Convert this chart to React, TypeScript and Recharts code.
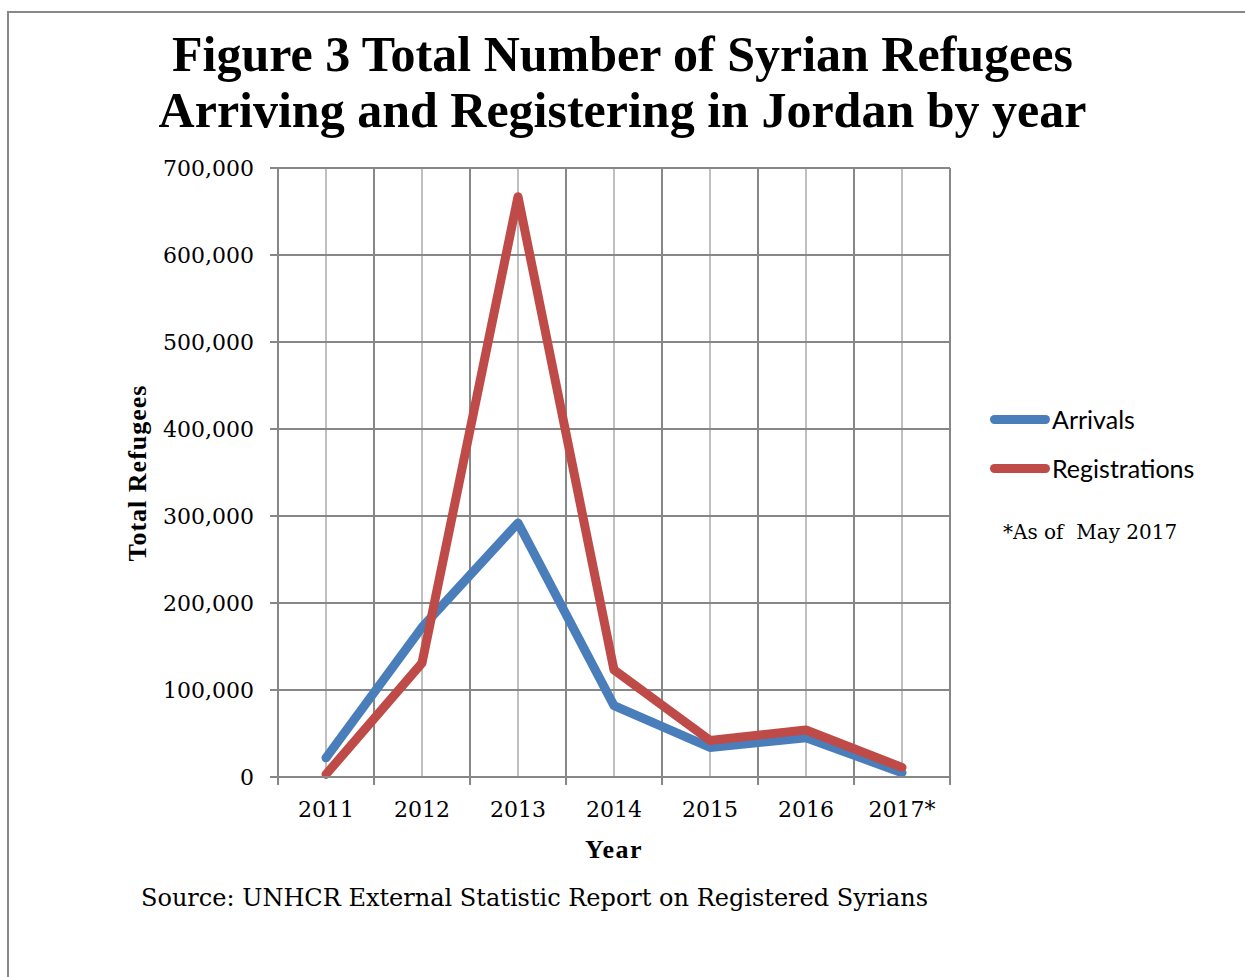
import { LineChart, Line, XAxis, YAxis, CartesianGrid } from "recharts";

const years = ["2011", "2012", "2013", "2014", "2015", "2016", "2017*"];
const arrivals = [22000, 172000, 292000, 82000, 34000, 45000, 5000];
const registrations = [3000, 131000, 667000, 123000, 42000, 54000, 11000];
const yTicks = [0, 100000, 200000, 300000, 400000, 500000, 600000, 700000];

const series = [
  { key: "arrivals", name: "Arrivals", color: "#4A7EBB" },
  { key: "registrations", name: "Registrations", color: "#BE4B48" },
];

const data = years.map((year, i) => ({
  year,
  arrivals: arrivals[i],
  registrations: registrations[i],
}));

const serif = "'Liberation Serif', 'DejaVu Serif', serif";
const wideSerif = "'DejaVu Serif', 'Liberation Serif', serif";
const sans = "Lato, 'Liberation Sans', Arial, sans-serif";
const darkGrid = "#878787";
const lightGrid = "#c0c0c0";

const chartW = 1245;
const chartH = 977;
const margin = { top: 168, right: 295, bottom: 0, left: 170 };
const yAxisW = 108;
const plotW = chartW - margin.left - margin.right - yAxisW;
const halfBand = plotW / (years.length * 2);

// band boundaries (Excel-style category gridlines between years)
function boundaryLines({ offset }: any) {
  const left = offset?.left ?? margin.left + yAxisW;
  const width = offset?.width ?? plotW;
  const step = width / years.length;
  return [...years.map((_, i) => left + i * step), left + width];
}

function YearTick(props: any) {
  const { x, y, payload, index } = props;
  const half = typeof payload?.offset === "number" && payload.offset > 0 ? payload.offset : halfBand;
  return (
    <g>
      <line x1={x - half} x2={x - half} y1={y - 8} y2={y} stroke={darkGrid} strokeWidth={2} />
      {index === years.length - 1 && (
        <line x1={x + half} x2={x + half} y1={y - 8} y2={y} stroke={darkGrid} strokeWidth={2} />
      )}
      <text x={x} y={y + 32} textAnchor="middle" fontFamily={wideSerif} fontSize={22} fill="#000">
        {payload.value}
      </text>
    </g>
  );
}

export default function App() {
  return (
    <div style={{ position: "absolute", left: 0, top: 0, width: 1245, height: 977, background: "#fff", overflow: "hidden" }}>
      <div
        style={{
          position: "absolute",
          left: 7,
          top: 11,
          width: 1300,
          height: 1100,
          borderTop: "2px solid #888",
          borderLeft: "2px solid #888",
        }}
      />
      <div
        style={{
          position: "absolute",
          left: 0,
          width: 1245,
          top: 26,
          textAlign: "center",
          fontFamily: serif,
          fontWeight: "bold",
          fontSize: 50,
          lineHeight: "56px",
        }}
      >
        Figure 3 Total Number of Syrian Refugees
        <br />
        Arriving and Registering in Jordan by year
      </div>

      <div style={{ position: "absolute", left: 0, top: 0 }}>
        <LineChart width={chartW} height={chartH} data={data} margin={margin}>
          <CartesianGrid horizontal={false} stroke={lightGrid} strokeWidth={2} />
          <CartesianGrid
            stroke={darkGrid}
            strokeWidth={2}
            verticalCoordinatesGenerator={boundaryLines}
          />
          <XAxis
            dataKey="year"
            scale="band"
            height={200}
            tickLine={false}
            axisLine={{ stroke: darkGrid, strokeWidth: 2 }}
            tick={<YearTick />}
            interval={0}
          />
          <YAxis
            width={yAxisW}
            domain={[0, 700000]}
            ticks={yTicks}
            interval={0}
            tickSize={8}
            tickMargin={16}
            tickLine={{ stroke: darkGrid, strokeWidth: 2 }}
            axisLine={{ stroke: darkGrid, strokeWidth: 2 }}
            tickFormatter={(v: number) => v.toLocaleString("en-US")}
            tick={{ fontFamily: wideSerif, fontSize: 22, fill: "#000" }}
          />
          {series.map((s) => (
            <Line
              key={s.key}
              dataKey={s.key}
              name={s.name}
              stroke={s.color}
              strokeWidth={9}
              strokeLinecap="round"
              strokeLinejoin="round"
              dot={false}
              isAnimationActive={false}
            />
          ))}
        </LineChart>
      </div>

      <div
        style={{
          position: "absolute",
          left: 138,
          top: 473,
          transform: "translate(-50%, -50%) rotate(-90deg)",
          fontFamily: serif,
          fontWeight: "bold",
          fontSize: 26,
          letterSpacing: 1,
          whiteSpace: "nowrap",
        }}
      >
        Total Refugees
      </div>
      <div
        style={{
          position: "absolute",
          left: 614,
          top: 850,
          transform: "translate(-50%, -50%)",
          fontFamily: serif,
          fontWeight: "bold",
          fontSize: 26,
          letterSpacing: 1.5,
        }}
      >
        Year
      </div>
      <div
        style={{
          position: "absolute",
          left: 141,
          top: 898,
          transform: "translateY(-50%)",
          fontFamily: wideSerif,
          fontSize: 24,
          whiteSpace: "nowrap",
        }}
      >
        Source: UNHCR External Statistic Report on Registered Syrians
      </div>

      {series.map((s, i) => (
        <div
          key={s.key}
          style={{
            position: "absolute",
            left: 990,
            top: 419 + i * 49,
            transform: "translateY(-50%)",
            display: "flex",
            alignItems: "center",
          }}
        >
          <div style={{ width: 60, height: 9, borderRadius: 5, background: s.color }} />
          <span style={{ fontFamily: sans, fontSize: 25, marginLeft: 2 }}>{s.name}</span>
        </div>
      ))}
      <div
        style={{
          position: "absolute",
          left: 1003,
          top: 532,
          transform: "translateY(-50%)",
          fontFamily: wideSerif,
          fontSize: 20,
          whiteSpace: "pre",
        }}
      >
        {"*As of  May 2017"}
      </div>
    </div>
  );
}
